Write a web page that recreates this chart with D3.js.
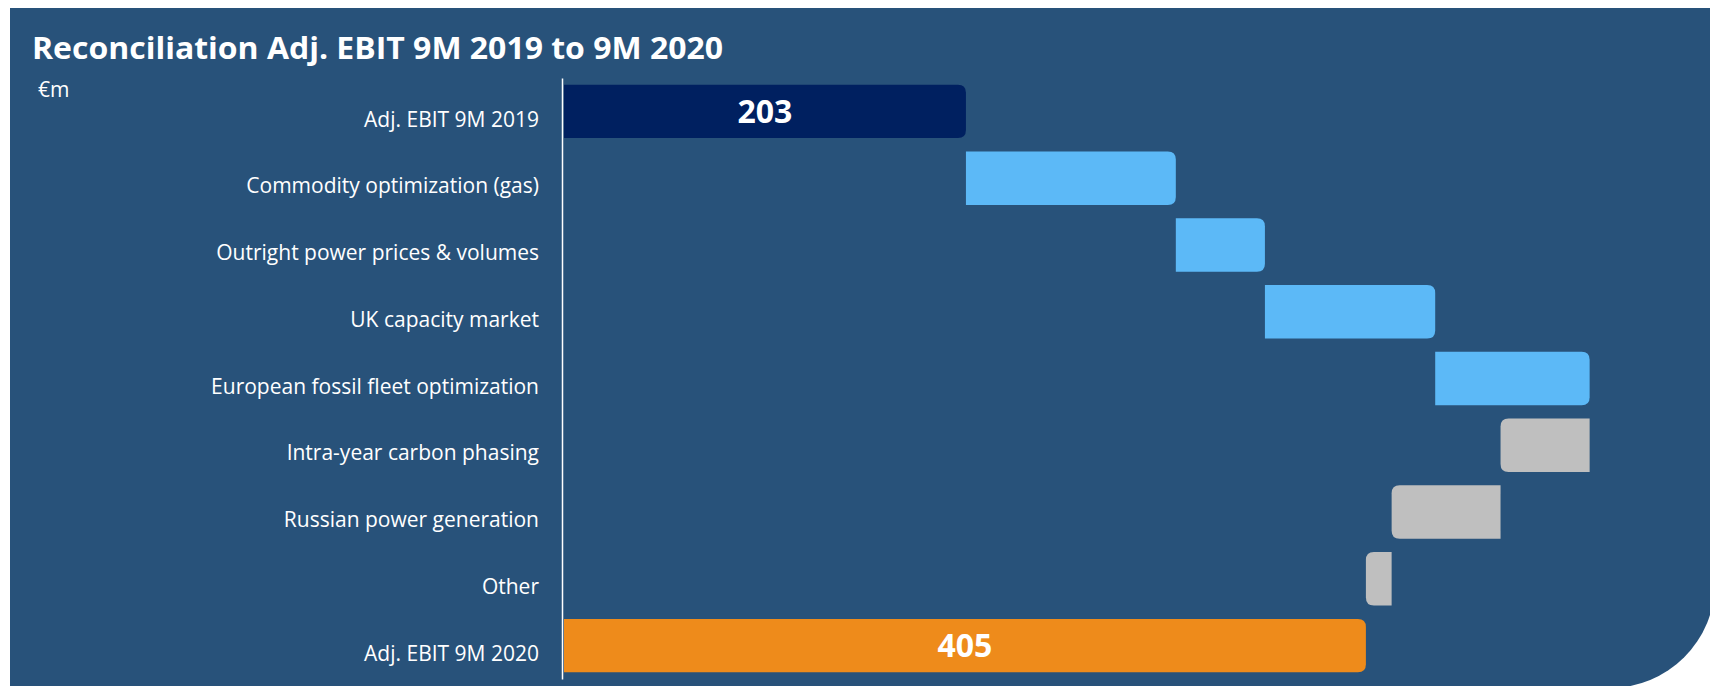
<!DOCTYPE html>
<html>
<head>
<meta charset="utf-8">
<script src="https://cdn.jsdelivr.net/npm/d3@7"></script>
<style>
  body { margin: 0; background: #ffffff; }
  text { font-family: "Open Sans", Lato, sans-serif; fill: #ffffff; }
</style>
</head>
<body>
<div id="chart"></div>
<script>
// categories, top to bottom
var categories = [
  "Adj. EBIT 9M 2019",
  "Commodity optimization (gas)",
  "Outright power prices & volumes",
  "UK capacity market",
  "European fossil fleet optimization",
  "Intra-year carbon phasing",
  "Russian power generation",
  "Other",
  "Adj. EBIT 9M 2020"
];
// €m, totals first/last, changes in between
var values = [203, 106, 45, 86, 78, -45, -55, -13, 405];
var kinds = ["start", "up", "up", "up", "up", "down", "down", "down", "end"];

var width = 1710, height = 686;

var svg = d3.select("#chart")
  .append("svg")
    .attr("width", width)
    .attr("height", height);

// background panel, bottom right corner rounded
svg.append("path")
  .attr("d", "M10,8 H1715 V583 A105,105 0 0 1 1610,688 H10 Z")
  .attr("fill", "#28527a");

// title
svg.append("text")
  .attr("x", 32)
  .attr("y", 59)
  .attr("font-size", 30)
  .attr("font-weight", "bold")
  .attr("textLength", 691)
  .attr("lengthAdjust", "spacingAndGlyphs")
  .text("Reconciliation Adj. EBIT 9M 2019 to 9M 2020");

svg.append("text")
  .attr("x", 38)
  .attr("y", 97)
  .attr("font-size", 21)
  .text("€m");

// build waterfall steps
var rows = [];
var run = 0;
values.forEach(function(v, i) {
  var k = kinds[i];
  var from, to;
  if (k == "start" || k == "end") {
    from = 0; to = v; run = v;
  } else {
    from = run; to = run + v; run = to;
  }
  rows.push({ cat: categories[i], value: v, kind: k, from: from, to: to });
});

var x = d3.scaleLinear()
  .domain([0, 560])
  .range([564, 564 + 560 * 1.98]);

var y = d3.scaleBand()
  .domain(categories)
  .range([78, 679])
  .paddingInner(0.2)
  .paddingOuter(0.1);

var color = d3.scaleOrdinal()
  .domain(["start", "up", "down", "end"])
  .range(["#002060", "#5cb9f7", "#bfbfbf", "#ee8b1b"]);

// bar with the far end rounded (right for increases, left for decreases)
function barPath(x0, x1, top, h, r) {
  var left = Math.min(x0, x1), right = Math.max(x0, x1);
  var w = right - left;
  r = Math.min(r, w / 2, h / 2);
  var bottom = top + h;
  if (x1 >= x0) {
    return "M" + left + "," + top +
      "H" + (right - r) +
      "Q" + right + "," + top + " " + right + "," + (top + r) +
      "V" + (bottom - r) +
      "Q" + right + "," + bottom + " " + (right - r) + "," + bottom +
      "H" + left + "Z";
  }
  return "M" + right + "," + top +
    "V" + bottom +
    "H" + (left + r) +
    "Q" + left + "," + bottom + " " + left + "," + (bottom - r) +
    "V" + (top + r) +
    "Q" + left + "," + top + " " + (left + r) + "," + top +
    "Z";
}

svg.selectAll("path.bar")
  .data(rows)
  .enter()
  .append("path")
    .attr("class", "bar")
    .attr("d", function(d) {
      return barPath(x(d.from), x(d.to), y(d.cat), y.bandwidth(), 8);
    })
    .attr("fill", function(d) { return color(d.kind); });

// value labels on the two totals
svg.selectAll("text.val")
  .data(rows.filter(function(d) { return d.kind == "start" || d.kind == "end"; }))
  .enter()
  .append("text")
    .attr("class", "val")
    .attr("x", function(d) { return (x(d.from) + x(d.to)) / 2; })
    .attr("y", function(d) { return y(d.cat) + y.bandwidth() / 2; })
    .attr("dy", "0.36em")
    .attr("text-anchor", "middle")
    .attr("font-size", 32)
    .attr("font-family", "'Open Sans', Lato, sans-serif")
    .attr("font-weight", "bold")
    .text(function(d) { return d.value; });

// category axis
var yAxis = svg.append("g")
  .attr("transform", "translate(562,0)")
  .call(d3.axisLeft(y).tickSize(0).tickPadding(23));

yAxis.select(".domain")
  .attr("stroke", "#ffffff")
  .attr("stroke-width", 1.5);

yAxis.selectAll("text")
  .attr("font-size", 21)
  .attr("font-family", "'Open Sans', Lato, sans-serif")
  .attr("fill", "#ffffff")
  .attr("dy", "0.72em");
</script>
</body>
</html>
